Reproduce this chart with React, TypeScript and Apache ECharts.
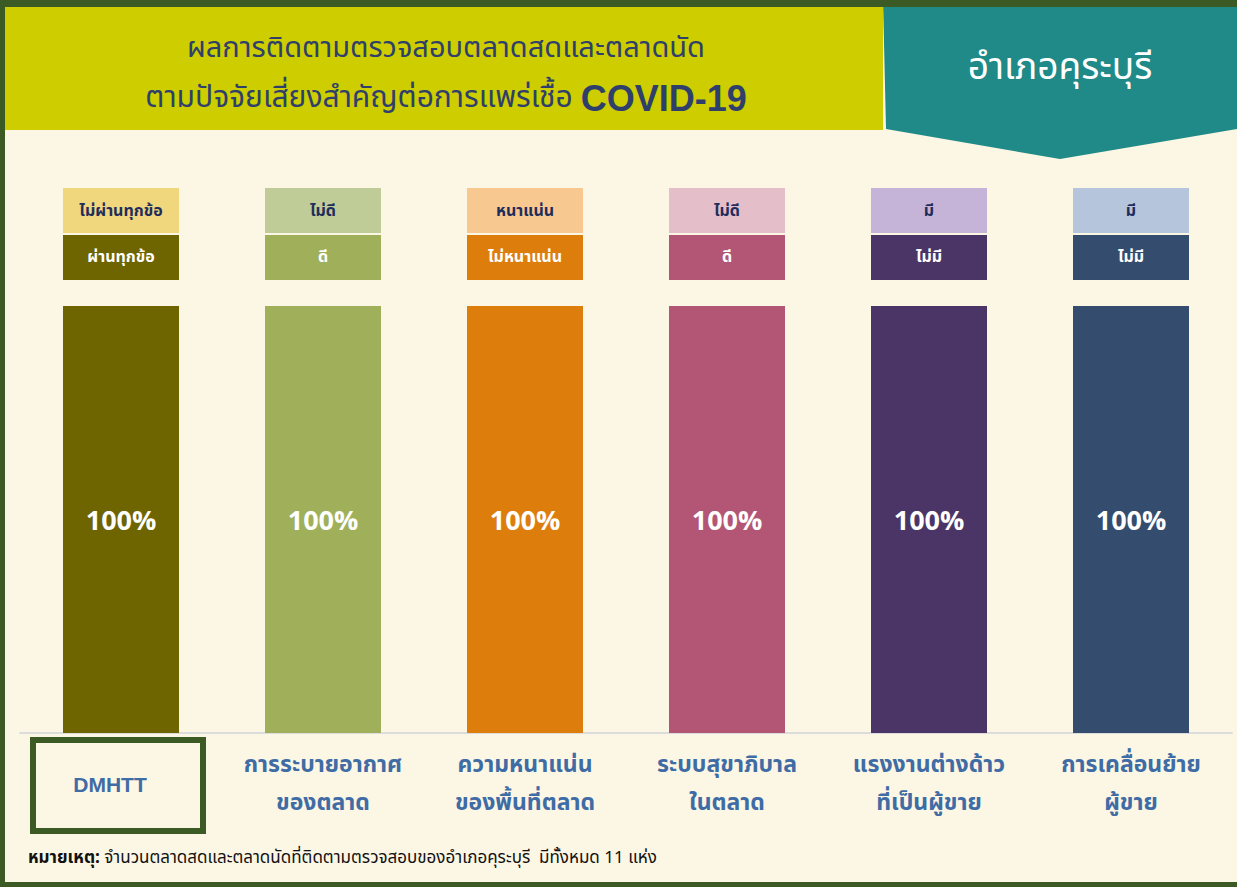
import React, { useEffect, useRef } from "react";
import * as echarts from "echarts";

const categories = [
  "DMHTT",
  "การระบายอากาศ\nของตลาด",
  "ความหนาแน่น\nของพื้นที่ตลาด",
  "ระบบสุขาภิบาล\nในตลาด",
  "แรงงานต่างด้าว\nที่เป็นผู้ขาย",
  "การเคลื่อนย้าย\nผู้ขาย",
];
const values = [100, 100, 100, 100, 100, 100];
const barColors = ["#6e6400", "#a0b05a", "#dd7e0c", "#b35574", "#4b3567", "#344c6d"];
const lightColors = ["#f0d67c", "#bfcc97", "#f8c891", "#e4bfca", "#c6b4d8", "#b5c5dc"];
const riskLabels = ["ไม่ผ่านทุกข้อ", "ไม่ดี", "หนาแน่น", "ไม่ดี", "มี", "มี"];
const safeLabels = ["ผ่านทุกข้อ", "ดี", "ไม่หนาแน่น", "ดี", "ไม่มี", "ไม่มี"];
const titleLine1 = "ผลการติดตามตรวจสอบตลาดสดและตลาดนัด";
const titleLine2 = "ตามปัจจัยเสี่ยงสำคัญต่อการแพร่เชื้อ";
const titleCovid = "COVID-19";
const districtName = "อำเภอคุระบุรี";
const noteLabel = "หมายเหตุ:";
const noteText = " จำนวนตลาดสดและตลาดนัดที่ติดตามตรวจสอบของอำเภอคุระบุรี  มีทั้งหมด 11 แห่ง";

const THAI = "Tahoma, 'Noto Sans Thai', 'Noto Sans', 'DejaVu Sans', sans-serif";
const BORDER = "#3b5a24";
const CREAM = "#fcf6e4";
const LABEL_BLUE = "#3f6ca4";

export default function App() {
  const ref = useRef<HTMLDivElement>(null);
  useEffect(() => {
    if (!ref.current) return;
    const chart = echarts.init(ref.current, null, { renderer: "svg" });
    const option: any = {
      animation: false,
      backgroundColor: CREAM,
      grid: { left: 20, right: 5, top: 306, bottom: 154, containLabel: false },
      xAxis: {
        type: "category",
        data: categories,
        axisLine: { show: true, lineStyle: { color: "#dcdcdc", width: 2 } },
        axisTick: { show: false },
        axisLabel: {
          interval: 0,
          margin: 13,
          formatter: (v: string, i: number) =>
            i === 0 ? `{one|${v}}` : v.split("\n").map((s) => `{two|${s}}`).join("\n"),
          rich: {
            one: {
              lineHeight: 76,
              fontSize: 21,
              fontWeight: "bold",
              color: LABEL_BLUE,
              padding: [0, 22, 0, 0],
              fontFamily: "Arial, 'Liberation Sans', sans-serif",
            },
            two: { lineHeight: 38, fontSize: 23, fontWeight: "bold", color: LABEL_BLUE, fontFamily: THAI },
          },
        },
      },
      yAxis: { type: "value", min: 0, max: 100, show: false, splitLine: { show: false } },
      series: [
        {
          type: "bar",
          barWidth: 116,
          data: values.map((v, i) => ({ value: v, itemStyle: { color: barColors[i] } })),
          label: {
            show: true,
            position: "inside",
            formatter: "{c}%",
            color: "#ffffff",
            fontSize: 27,
            fontWeight: "bold",
            fontFamily: "'Open Sans', Arial, sans-serif",
          },
        },
      ],
    };
    chart.setOption(option);

    const boxes: any[] = [];
    categories.forEach((_, i) => {
      const cx = chart.convertToPixel({ xAxisIndex: 0 }, i) as number;
      const w = 116;
      boxes.push({
        type: "rect",
        shape: { x: cx - w / 2, y: 188, width: w, height: 45 },
        style: { fill: lightColors[i] },
      });
      boxes.push({
        type: "rect",
        shape: { x: cx - w / 2, y: 235, width: w, height: 45 },
        style: { fill: barColors[i] },
      });
      boxes.push({
        type: "text",
        x: cx,
        y: 211,
        style: { text: riskLabels[i], fill: "#1f2d5c", font: `bold 16px ${THAI}`, align: "center", verticalAlign: "middle" },
      });
      boxes.push({
        type: "text",
        x: cx,
        y: 257,
        style: { text: safeLabels[i], fill: "#ffffff", font: `bold 16px ${THAI}`, align: "center", verticalAlign: "middle" },
      });
    });
    const dm = chart.convertToPixel({ xAxisIndex: 0 }, 0) as number;

    chart.setOption({
      graphic: [
        { type: "rect", shape: { x: 0, y: 0, width: 883, height: 130 }, style: { fill: "#cdcd00" } },
        {
          type: "polygon",
          shape: { points: [[883, 0], [1237, 0], [1237, 129], [1060, 159], [886, 129]] },
          style: { fill: "#1f8a87" },
        },
        {
          type: "text",
          x: 446,
          y: 48,
          style: { text: titleLine1, fill: "#2f3f6b", font: `29px ${THAI}`, align: "center", verticalAlign: "middle" },
        },
        {
          type: "text",
          x: 446,
          y: 98,
          style: {
            text: `{t|${titleLine2} }{c|${titleCovid}}`,
            align: "center",
            verticalAlign: "middle",
            rich: {
              t: { fill: "#2f3f6b", fontSize: 30, fontFamily: THAI },
              c: { fill: "#2f3f6b", fontSize: 36, fontWeight: "bold", fontFamily: "Arial, 'Liberation Sans', sans-serif" },
            },
          },
        },
        {
          type: "text",
          x: 1060,
          y: 68,
          style: { text: districtName, fill: "#ffffff", font: `37px ${THAI}`, align: "center", verticalAlign: "middle" },
        },
        ...boxes,
        {
          type: "rect",
          shape: { x: dm - 88, y: 740, width: 170, height: 91 },
          style: { fill: "none", stroke: BORDER, lineWidth: 6 },
        },
        {
          type: "text",
          x: 28,
          y: 858,
          style: {
            text: `{b|${noteLabel}}{n|${noteText}}`,
            verticalAlign: "middle",
            rich: {
              b: { fill: "#111111", fontSize: 17, fontWeight: "bold", fontFamily: THAI },
              n: { fill: "#111111", fontSize: 17, fontFamily: THAI },
            },
          },
        },
        { type: "rect", shape: { x: 0, y: 0, width: 1237, height: 7 }, style: { fill: BORDER } },
        { type: "rect", shape: { x: 0, y: 0, width: 5, height: 887 }, style: { fill: BORDER } },
        { type: "rect", shape: { x: 0, y: 882, width: 1237, height: 5 }, style: { fill: BORDER } },
      ],
    });
    return () => chart.dispose();
  }, []);
  return (
    <div style={{ position: "fixed", left: 0, top: 0, width: 1237, height: 887 }}>
      <div ref={ref} style={{ width: 1237, height: 887 }} />
    </div>
  );
}
